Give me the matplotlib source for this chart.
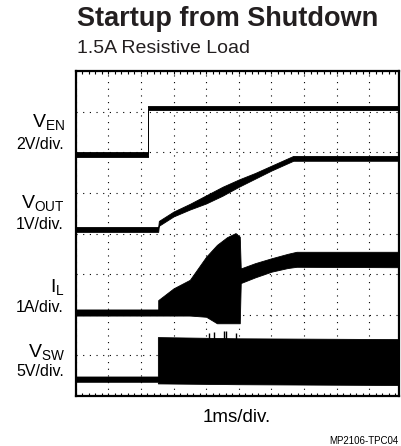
import numpy as np
import matplotlib.pyplot as plt
from matplotlib.ticker import MultipleLocator

plt.rcParams['font.family'] = ['Liberation Sans', 'DejaVu Sans']
plt.rcParams['mathtext.fontset'] = 'custom'
plt.rcParams['mathtext.rm'] = 'Liberation Sans'
plt.rcParams['mathtext.it'] = 'Liberation Sans'

# scope traces in divisions (x: time div, y: vertical div)
t_en = [0, 2.23, 2.23, 9.91]
en_hi = [6.01, 6.01, 7.14, 7.14]
en_lo = [5.89, 5.89, 7.03, 7.03]

t_out = [0, 2.53, 2.55, 3.0, 3.5, 4.0, 4.5, 5.0, 5.5, 6.0, 6.67, 9.91]
out_mid = [4.10, 4.10, 4.25, 4.48, 4.66, 4.84, 5.04, 5.24, 5.42, 5.61, 5.85, 5.85]
out_half = [0.06, 0.06, 0.06, 0.06, 0.07, 0.10, 0.11, 0.09, 0.07, 0.06, 0.06, 0.06]

t_il = [0, 2.53, 2.53, 3.0, 3.5, 4.0, 4.33, 4.64, 4.9, 5.03, 5.06, 5.5, 6.0, 6.5, 6.77, 9.91]
il_hi = [2.13, 2.13, 2.36, 2.65, 2.86, 3.43, 3.72, 3.91, 4.01, 3.92, 3.14, 3.27, 3.39, 3.50, 3.55, 3.55]
il_lo = [1.98, 1.98, 1.98, 1.98, 1.98, 1.95, 1.79, 1.79, 1.79, 1.79, 2.78, 2.92, 3.06, 3.15, 3.18, 3.17]

t_sw = [0, 2.52, 2.52, 5.0, 9.91]
sw_hi = [0.48, 0.48, 1.45, 1.42, 1.40]
sw_lo = [0.35, 0.35, 0.31, 0.29, 0.27]
sw_spike_t = [4.1, 4.25, 4.55, 4.6, 4.9]
sw_spike_top = [1.56, 1.58, 1.60, 1.60, 1.56]

channels = ['V$_{\\mathrm{EN}}$', 'V$_{\\mathrm{OUT}}$', 'I$_{\\mathrm{L}}$', 'V$_{\\mathrm{SW}}$']
scales = ['2V/div.', '1V/div.', '1A/div.', '5V/div.']
label_y = [127, 208, 292, 357]   # pixel baselines from top
scale_y = [149, 229, 312, 376]

W, H = 401, 446
fig = plt.figure(figsize=(W / 100, H / 100), dpi=100)
ax = fig.add_axes([75.65 / W, 1 - 396 / H, (399 - 75.65) / W, (396 - 71) / H])
ax.set_xlim(0, 9.91)
ax.set_ylim(0, 8)

ax.xaxis.set_major_locator(MultipleLocator(1))
ax.yaxis.set_major_locator(MultipleLocator(1))
ax.xaxis.set_minor_locator(MultipleLocator(0.2))
ax.grid(True, color='black', lw=0.8, ls=(0, (1, 5)))
ax.tick_params(axis='x', which='both', direction='in', top=True, bottom=True,
               length=2.5, width=0.8, labelbottom=False)
ax.tick_params(axis='y', which='both', left=False, labelleft=False)
for s in ax.spines.values():
    s.set_linewidth(1.6)

k = 'black'
ax.fill_between(t_en, en_lo, en_hi, color=k, lw=0.6)
ax.plot([t_en[1], t_en[2]], [en_lo[1], en_hi[2]], color=k, lw=0.7, ls=(0, (2, 1)))

mid = np.array(out_mid)
half = np.array(out_half)
ax.fill_between(t_out, mid - half, mid + half, color=k, lw=0.6)

ax.fill_between(t_il, il_lo, il_hi, color=k, lw=0.6)

ax.fill_between(t_sw, sw_lo, sw_hi, color=k, lw=0.6)
ax.vlines(sw_spike_t, 1.3, sw_spike_top, color=k, lw=1.0)

for name, sc, ly, sy in zip(channels, scales, label_y, scale_y):
    fig.text(65 / W, 1 - ly / H, name, ha='right', va='baseline', fontsize=14)
    fig.text(64 / W, 1 - sy / H, sc, ha='right', va='baseline', fontsize=11.5)

fig.text(77 / W, 1 - 26 / H, 'Startup from Shutdown', fontsize=19.5,
         fontweight='bold', va='baseline', color='#231f20')
fig.text(77 / W, 1 - 53 / H, '1.5A Resistive Load', fontsize=14,
         va='baseline', color='#231f20')
fig.text(237 / W, 1 - 421.5 / H, '1ms/div.', fontsize=13.5, ha='center', va='baseline')
fig.text(399 / W, 1 - 444 / H, 'MP2106-TPC04', fontsize=7, ha='right', va='baseline')

fig.savefig('out.png', dpi=100)
